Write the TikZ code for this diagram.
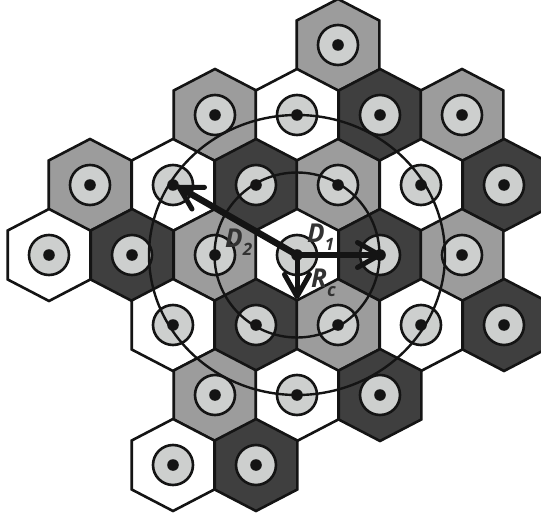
\documentclass[tikz,border=0pt]{standalone}
\usepackage{fontspec}
\setmainfont{Open Sans}
\usetikzlibrary{arrows.meta}
\definecolor{ink}{HTML}{141414}
\definecolor{midgray}{HTML}{9C9C9C}
\definecolor{darkgray}{HTML}{3F3F3F}
\definecolor{lightgray}{HTML}{CDCFCE}
\tikzset{
  hexcell/.style={draw=ink,line width=2.6pt,line join=miter},
  station/.style={draw=ink,fill=lightgray,line width=2.6pt},
  dotmark/.style={fill=ink,draw=none},
  ring/.style={draw=ink,line width=2.4pt},
  vec/.style={draw=ink,line cap=round,-{Straight Barb[length=22pt,width=25pt,line width=5pt,round]}},
  lab/.style={text=darkgray!70!ink,inner sep=0pt,anchor=base west,font=\fontsize{26}{26}\selectfont\bfseries\itshape},
}
\newcommand{\subsc}[1]{\raisebox{-8pt}{\fontsize{17}{17}\selectfont #1}}
\newcommand{\cellsall}{338/45/midgray,215/115/midgray,297/115/white,380/115/darkgray,462/115/midgray,90/185/midgray,173/185/white,256/185/darkgray,338/185/midgray,421/185/white,504/185/darkgray,49/255/white,132/255/darkgray,215/255/midgray,297/255/white,380/255/darkgray,462/255/midgray,173/325/white,256/325/darkgray,338/325/midgray,421/325/white,504/325/darkgray,215/395/midgray,297/395/white,380/395/darkgray,173/465/white,256/465/darkgray}
\begin{document}
\begin{tikzpicture}[x=1pt,y=-1pt]
\useasboundingbox (0,0) rectangle (541,516);
\foreach \x/\y/\c in \cellsall {
  \draw[hexcell,fill=\c] (\x,\y-46) -- (\x+41.3,\y-24.5) -- (\x+41.3,\y+24.5) -- (\x,\y+46) -- (\x-41.3,\y+24.5) -- (\x-41.3,\y-24.5) -- cycle;
}
\foreach \x/\y/\c in \cellsall {
  \draw[station] (\x,\y) circle (20pt);
}
\coordinate (ctr) at (297,255);
\coordinate (d1end) at (382,255);
\coordinate (d2end) at (177,186);
\coordinate (rend) at (297,299);
\draw[ring] (ctr) circle (82.5pt);
\draw[ring] (ctr) ellipse (148pt and 140pt);
\foreach \x/\y/\c in \cellsall {
  \fill[dotmark] (\x,\y) circle (5.8pt);
}
\draw[vec,line width=5.5pt] (ctr) -- (d1end);
\draw[vec,line width=6.5pt] (ctr) -- (d2end);
\draw[vec,line width=5pt] (ctr) -- (rend);
\node[lab] (labD2) at (225,247) {D\subsc{2}};
\node[lab] (labD1) at (307,242) {D\subsc{1}};
\node[lab] (labR) at (311,287) {R\raisebox{-9pt}{\fontsize{18}{18}\selectfont c}};
\end{tikzpicture}
\end{document}
